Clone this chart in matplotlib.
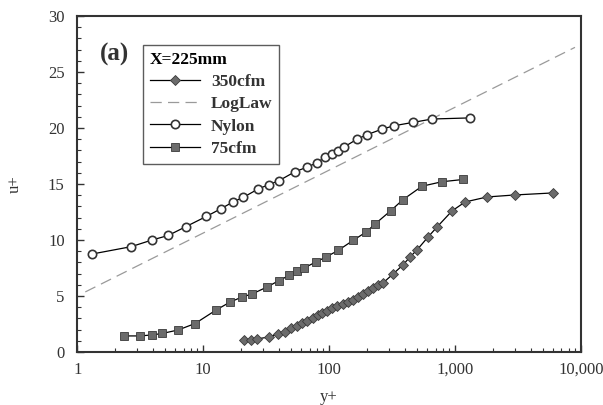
import matplotlib.pyplot as plt
import matplotlib.ticker as mticker
import numpy as np

plt.rcParams["font.family"] = ["Liberation Serif", "DejaVu Serif"]

# 350cfm
cfm350_y = [21.2, 24.0, 26.8, 33.4, 39.4, 44.8, 49.9, 55.7, 61.1, 66.9, 74.6, 81.8,
            88.0, 96.4, 105.6, 115.7, 129, 141.5, 155, 170, 186, 204, 223, 245, 268,
            322, 386, 439, 499, 611, 720, 946, 1200, 1795, 2994, 5998]
cfm350_u = [1.07, 1.07, 1.16, 1.34, 1.61, 1.79, 2.14, 2.32, 2.59, 2.77, 3.04, 3.30,
            3.48, 3.66, 3.93, 4.11, 4.29, 4.46, 4.64, 4.91, 5.18, 5.45, 5.71, 5.98, 6.16,
            6.96, 7.77, 8.48, 9.11, 10.27, 11.16, 12.59, 13.39, 13.84, 14.02, 14.2]

# LogLaw (endpoints)
loglaw_y = [1.16, 8960]
loglaw_u = [5.36, 27.2]

# Nylon
nylon_y = [1.32, 2.68, 3.94, 5.28, 7.33, 10.6, 13.9, 17.3, 20.8, 27.3, 33.4, 40.1,
           53.7, 66.9, 80.3, 92.9, 105.6, 117.8, 131.5, 166.7, 200, 263.6, 328, 464,
           657, 1315]
nylon_u = [8.75, 9.4, 10.0, 10.4, 11.2, 12.1, 12.8, 13.4, 13.8, 14.55, 14.95, 15.3,
           16.1, 16.5, 16.9, 17.4, 17.7, 17.9, 18.3, 19.0, 19.4, 19.9, 20.2, 20.5,
           20.8, 20.9]

# 75cfm
cfm75_y = [2.36, 3.16, 3.94, 4.73, 6.33, 8.64, 12.7, 16.4, 20.4, 24.5, 32.2, 40.1,
           48.2, 55.7, 63.3, 78.8, 94.6, 117.8, 155, 197, 232, 310, 386, 547, 788, 1157]
cfm75_u = [1.43, 1.43, 1.52, 1.65, 1.96, 2.54, 3.75, 4.46, 4.91, 5.18, 5.80, 6.38,
           6.83, 7.23, 7.5, 8.04, 8.48, 9.06, 9.96, 10.71, 11.43, 12.63, 13.6, 14.8,
           15.2, 15.4]

fig = plt.figure(figsize=(6.03, 4.05), dpi=100)
ax = fig.add_axes([0.128, 0.131, 0.8355, 0.8295])

ax.plot(cfm350_y, cfm350_u, color="black", lw=0.9, marker="D", ms=5.5,
        mfc="#6b6b6b", mec="#3a3a3a", mew=0.6, label="350cfm")
ax.plot(loglaw_y, loglaw_u, color="#9a9a9a", lw=0.9, dashes=(9, 5), label="LogLaw")
ax.plot(nylon_y, nylon_u, color="black", lw=0.9, marker="o", ms=6,
        mfc="white", mec="#333333", mew=1.2, label="Nylon")
ax.plot(cfm75_y, cfm75_u, color="black", lw=0.9, marker="s", ms=6,
        mfc="#6b6b6b", mec="#3a3a3a", mew=0.6, label="75cfm")

ax.set_xscale("log")
ax.set_xlim(1, 10000)
ax.set_ylim(0, 30)
ax.xaxis.set_major_formatter(mticker.FuncFormatter(lambda v, p: f"{v:,.0f}"))
ax.yaxis.set_major_locator(mticker.MultipleLocator(5))
ax.yaxis.set_minor_locator(mticker.MultipleLocator(1))
ax.tick_params(which="both", direction="in", top=False, right=False,
               labelsize=12, colors="#333333")
ax.tick_params(which="major", length=5, width=1)
ax.tick_params(which="minor", length=3, width=0.8)
ax.tick_params(axis="x", pad=7)
ax.tick_params(axis="y", pad=9)
for s in ax.spines.values():
    s.set_linewidth(1.5)
    s.set_color("#333333")

ax.set_xlabel("y+", fontsize=12, color="#333333", labelpad=8)
ax.set_ylabel("u+", fontsize=12, color="#333333", labelpad=18)

ax.text(0.045, 0.885, "(a)", transform=ax.transAxes, fontsize=18,
        fontweight="bold", color="#333333", va="center")

leg = ax.legend(title="X=225mm", loc="upper left", bbox_to_anchor=(0.131, 0.914),
                fontsize=12.5, frameon=True, fancybox=False, handlelength=2.9,
                borderpad=0.4, labelspacing=0.35, handletextpad=0.6,
                borderaxespad=0)
leg.get_frame().set_edgecolor("#333333")
leg.get_frame().set_linewidth(1.0)
leg._legend_box.align = "left"
leg.get_title().set_fontweight("bold")
leg.get_title().set_fontsize(12.5)
for t in leg.get_texts():
    t.set_fontweight("bold")
    t.set_color("#333333")

fig.savefig("out.png", dpi=100)
